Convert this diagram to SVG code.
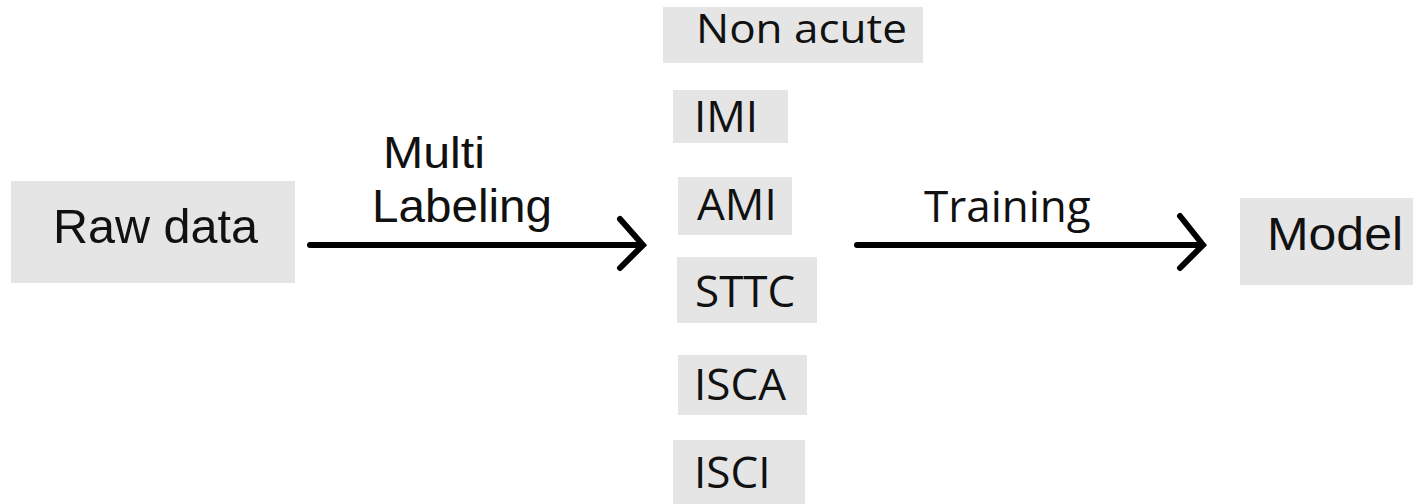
<svg xmlns="http://www.w3.org/2000/svg" width="1413" height="504" viewBox="0 0 1413 504">
<style>
.box{fill:#e5e5e5;}
.h{font-family:"Liberation Sans",Arial,sans-serif;fill:#111;}
.o{font-family:"Open Sans","Noto Sans",sans-serif;fill:#111;font-size:44px;}
.c{fill:none;stroke:#000;stroke-width:6;stroke-linecap:round;}
</style>
<rect width="1413" height="504" fill="#fff"/>
<g id="raw">
<rect class="box" x="11" y="181" width="284" height="102"/>
<text class="h" x="53" y="243" font-size="48" textLength="205" lengthAdjust="spacingAndGlyphs">Raw data</text>
</g>
<g id="nonacute">
<rect class="box" x="663" y="7" width="260" height="56"/>
<text class="o" x="696" y="43" style="font-size:40px" textLength="211" lengthAdjust="spacingAndGlyphs">Non acute</text>
</g>
<g id="imi">
<rect class="box" x="673" y="90" width="115" height="53"/>
<text class="o" x="694" y="132">IMI</text>
</g>
<g id="ami">
<rect class="box" x="678" y="177" width="114" height="58"/>
<text class="o" x="697" y="220">AMI</text>
</g>
<g id="sttc">
<rect class="box" x="677" y="257" width="140" height="66"/>
<text class="o" x="695" y="307">STTC</text>
</g>
<g id="isca">
<rect class="box" x="678" y="355" width="129" height="60"/>
<text class="o" x="694" y="400">ISCA</text>
</g>
<g id="isci">
<rect class="box" x="673" y="440" width="132" height="64"/>
<text class="o" x="694" y="488">ISCI</text>
</g>
<g id="model">
<rect class="box" x="1240" y="198" width="173" height="87"/>
<text class="h" x="1267" y="250" font-size="46" textLength="136" lengthAdjust="spacingAndGlyphs">Model</text>
</g>
<g id="connectors">
<path class="c" d="M310 245H640M620 219L643 245L620 268"/>
<text class="h" x="383" y="168" font-size="44" textLength="102" lengthAdjust="spacingAndGlyphs">Multi</text>
<text class="h" x="372" y="222" font-size="46" textLength="180" lengthAdjust="spacingAndGlyphs">Labeling</text>
<path class="c" d="M857 245H1200M1180 216L1203 245L1180 268"/>
<text class="o" x="924" y="222">Training</text>
</g>
</svg>
